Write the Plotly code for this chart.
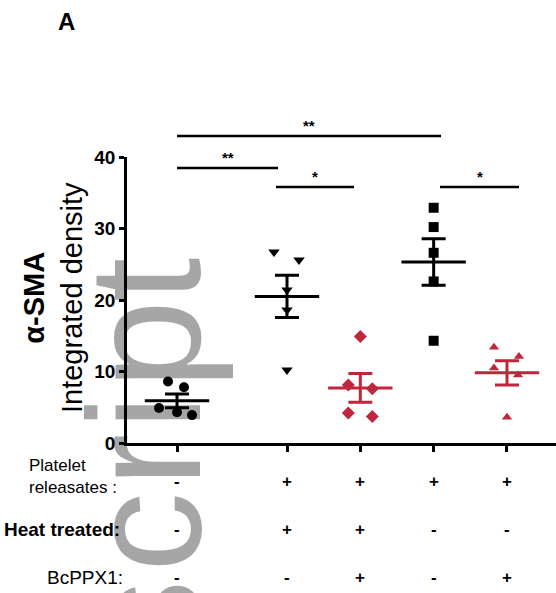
import numpy as np
import plotly.graph_objects as go

# ---------------- data ----------------
groups = ["Control", "Heat-treated PR", "Heat-treated PR + BcPPX1", "PR", "PR + BcPPX1"]
g1 = [8.6, 7.8, 4.9, 4.3, 3.9]
g2 = [26.7, 25.6, 21.4, 18.6, 10.2]
g3 = [14.9, 8.1, 7.6, 4.2, 3.7]
g4 = [32.9, 30.2, 26.6, 22.6, 14.3]
g5 = [13.4, 12.1, 10.5, 9.5, 3.6]
values = [g1, g2, g3, g4, g5]

y_ticks = [0, 10, 20, 30, 40]
row_labels = ["Platelet<br>releasates :", "Heat treated:", "BcPPX1:"]
platelet_row = ["-", "+", "+", "+", "+"]
heat_row = ["-", "+", "+", "-", "-"]
bcppx1_row = ["-", "-", "+", "-", "+"]
sig_labels = ["**", "**", "*", "*"]

# ---------------- layout helpers ----------------
W, H = 556, 593
L, R, T, B = 127, 0, 157, 150
PW, PH = W - L - R, H - T - B
PXU = 73.33                      # pixels per x unit
pos = [1, 2.5, 3.5, 4.5, 5.5]    # group centres
xr = [1 - (177 - L) / PXU, 1 + (W - R - 177) / PXU]

def px2x(px):
    return 1 + (px - 177) / PXU

def px2paper_x(px):
    return (px - L) / PW

def py2paper_y(py):
    return (H - B - py) / PH

# per-point horizontal scatter offsets (px)
jitter = [[-9, 7, -18, 0, 15],
          [-13, 12, 0, 0, 0],
          [0, -12, 12, -12, 12],
          [0, 0, 0, 0, 0],
          [-13, 12, -13, 11, 0]]
RED = "#c0263c"
colors = ["black", "black", RED, "black", RED]
symbols = ["circle", "triangle-down", "diamond", "square", "triangle-up"]
msizes = [10, 10, 10, 10, 9]

fig = go.Figure()
for i, vals in enumerate(values):
    xs = [pos[i] + j / PXU for j in jitter[i]]
    fig.add_trace(go.Scatter(
        x=xs, y=vals, mode="markers",
        marker=dict(symbol=symbols[i], size=msizes[i], color=colors[i], line=dict(width=0)),
        showlegend=False, hoverinfo="y"))
    arr = np.array(vals)
    mean = arr.mean()
    sem = arr.std(ddof=1) / np.sqrt(len(arr))
    # mean line with SEM error bar
    fig.add_trace(go.Scatter(
        x=[pos[i]], y=[mean], mode="markers",
        marker=dict(symbol="line-ew", size=46, color=colors[i],
                    line=dict(width=3, color=colors[i])),
        error_y=dict(type="data", array=[sem], visible=True, width=12,
                     thickness=3, color=colors[i]),
        showlegend=False, hoverinfo="y"))

fig.update_layout(
    width=W, height=H,
    margin=dict(l=L, r=R, t=T, b=B, pad=0),
    paper_bgcolor="white", plot_bgcolor="white",
    font=dict(family="Liberation Sans, Arial", color="black"),
    xaxis=dict(range=xr, showgrid=False, zeroline=False, showline=True,
               linecolor="black", linewidth=2.5, ticks="outside", ticklen=6,
               tickwidth=2.5, tickcolor="black", tickvals=pos,
               showticklabels=False),
    yaxis=dict(range=[0, 40], showgrid=False, zeroline=False, showline=True,
               linecolor="black", linewidth=2.5, ticks="outside", ticklen=5,
               tickwidth=2.5, tickcolor="black", tickvals=y_ticks,
               tickfont=dict(size=19, weight="bold")),
)

shapes = []
annots = []

# significance bars (px positions)
sig_bars = [(177, 441, 136), (177, 278, 168), (276, 354, 187), (440, 519, 187)]
for (x0, x1, py), lab in zip(sig_bars, sig_labels):
    yp = py2paper_y(py)
    shapes.append(dict(type="line", xref="x", yref="paper", x0=px2x(x0), x1=px2x(x1),
                       y0=yp, y1=yp, line=dict(color="black", width=2.5)))
    annots.append(dict(xref="x", yref="paper", x=(px2x(x0) + px2x(x1)) / 2,
                       y=py2paper_y(py - 11), text="<b>" + lab + "</b>",
                       showarrow=False, font=dict(size=15), xanchor="center",
                       yanchor="middle"))

# table of treatments
rows_y = [481, 529, 577]
for r, row in enumerate([platelet_row, heat_row, bcppx1_row]):
    for i, s in enumerate(row):
        annots.append(dict(xref="x", yref="paper", x=pos[i], y=py2paper_y(rows_y[r]),
                           text="<b>" + s + "</b>", showarrow=False,
                           font=dict(size=17), xanchor="center", yanchor="middle"))

annots.append(dict(xref="paper", yref="paper", x=px2paper_x(27), y=py2paper_y(476),
                   text=row_labels[0], showarrow=False, align="left",
                   font=dict(size=17), xanchor="left", yanchor="middle"))
annots.append(dict(xref="paper", yref="paper", x=px2paper_x(122), y=py2paper_y(529),
                   text="<b>" + row_labels[1] + "</b>", showarrow=False,
                   font=dict(size=19), xanchor="right", yanchor="middle"))
annots.append(dict(xref="paper", yref="paper", x=px2paper_x(125), y=py2paper_y(577),
                   text=row_labels[2], showarrow=False,
                   font=dict(size=19), xanchor="right", yanchor="middle"))

# y-axis title
annots.append(dict(xref="paper", yref="paper", x=px2paper_x(53), y=py2paper_y(298),
                   text="<b>α-SMA</b><br>Integrated density", showarrow=False,
                   textangle=-90, font=dict(size=29), xanchor="center",
                   yanchor="middle"))

# panel letter
annots.append(dict(xref="paper", yref="paper", x=px2paper_x(66), y=py2paper_y(22),
                   text="<b>A</b>", showarrow=False, font=dict(size=24),
                   xanchor="center", yanchor="middle"))

# watermark
wm_letters = ["t", "p", "i", "r", "c", "s"]
wm_y = [280, 345, 412, 461, 532, 620]
for ch, py in zip(wm_letters, wm_y):
    annots.append(dict(xref="paper", yref="paper", x=px2paper_x(144), y=py2paper_y(py),
                       text=ch, showarrow=False, textangle=-90,
                       font=dict(size=160, color="rgba(0,0,0,0.35)"),
                       xanchor="center", yanchor="middle"))

fig.update_layout(shapes=shapes, annotations=annots)
fig.write_html("out.html", config={"displayModeBar": False},
               post_script="document.body.style.margin='0px';document.body.style.overflow='hidden';")
